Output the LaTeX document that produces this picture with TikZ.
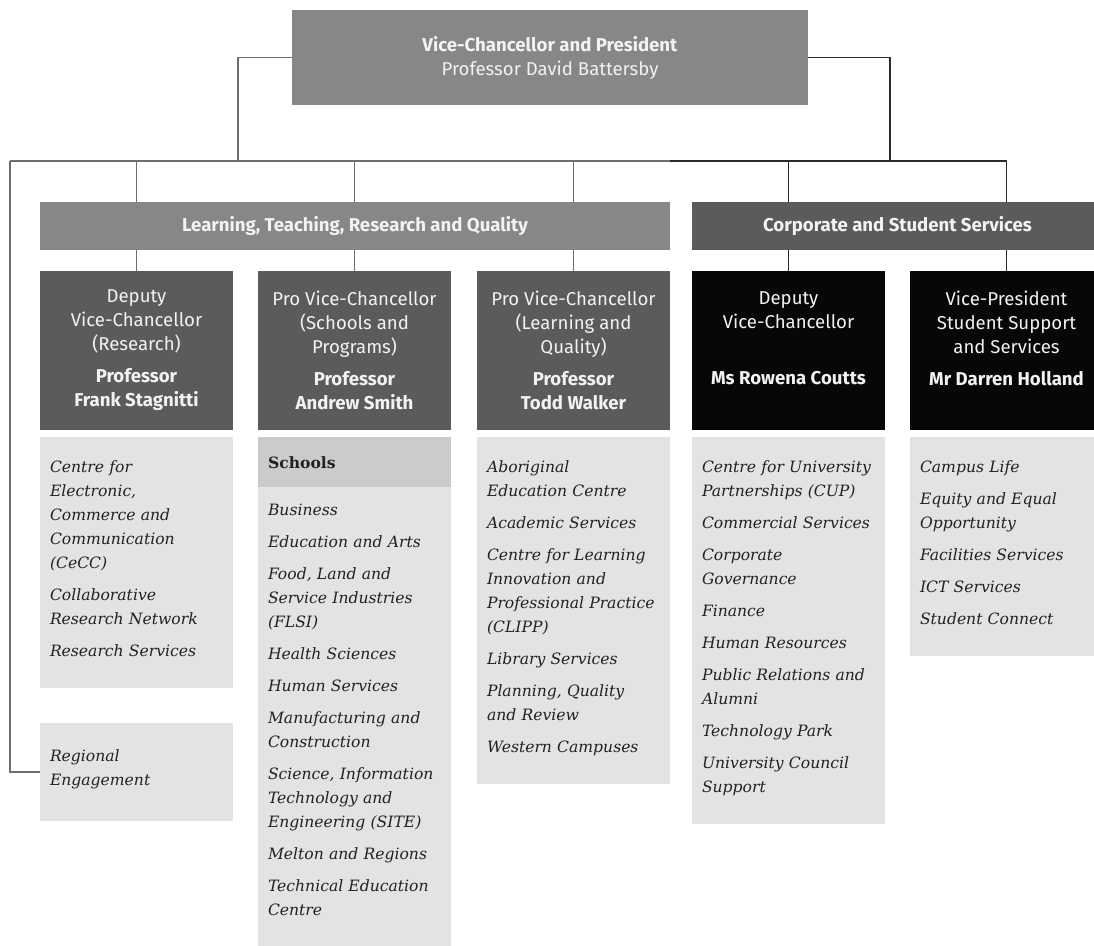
\documentclass[tikz,border=0pt]{standalone}
\usepackage{fontspec}
\setmainfont{DejaVu Serif}
\newfontfamily\headfont{Fira Sans}
\definecolor{topgray}{HTML}{878787}
\definecolor{midgray}{HTML}{5A5B5A}
\definecolor{headblack}{HTML}{070707}
\definecolor{unitgray}{HTML}{E3E3E3}
\definecolor{schgray}{HTML}{CBCBCB}
\definecolor{linegray}{HTML}{6E6E6E}
\definecolor{linedark}{HTML}{2B2B2B}
\newcommand{\unitgap}{\\[8pt]}
\begin{document}
\begin{tikzpicture}[x=1pt, y=-1pt,
    box/.style={inner sep=0pt, text=white!95!black, align=center, font=\headfont\fontsize{18.6}{24}\selectfont},
    topbox/.style={box, fill=topgray, minimum width=516pt, minimum height=95pt},
    bar/.style={box, minimum height=48pt, font=\headfont\bfseries\fontsize{18.6}{24}\selectfont},
    ltbar/.style={bar, fill=topgray, minimum width=630pt},
    csbar/.style={bar, fill=midgray, minimum width=411pt},
    head/.style={box, minimum width=193pt, minimum height=159pt},
    lthead/.style={head, fill=midgray},
    cshead/.style={head, fill=headblack},
    unit/.style={anchor=north, fill=unitgray, text width=173pt, inner xsep=10pt, inner ysep=0pt, align=left, text=black!87,
      font=\fontsize{15.6}{24}\selectfont\itshape,
      execute at begin node={\noindent\rule{0pt}{#1}}, execute at end node={\rule[-32pt]{0pt}{1pt}}},
    unit/.default=35pt,
    schhead/.style={anchor=north, fill=schgray, text width=173pt, inner xsep=10pt, inner ysep=0pt, minimum height=50pt,
      align=left, text=black!87, font=\fontsize{15.6}{24}\selectfont\bfseries},
    lnl/.style={draw=linegray, line width=1.2pt},
    lnr/.style={draw=linedark, line width=1.2pt}]
  \useasboundingbox (0,0) rectangle (1094,945);

  % top and the two groups
  \node[topbox] (vc) at (550,57.5) {\textbf{Vice-Chancellor and President}\\Professor David Battersby};
  \node[ltbar] (ltrq) at (355,226) {Learning, Teaching, Research and Quality};
  \node[csbar] (css) at (897.5,226) {Corporate and Student Services};

  % heads
  \node[lthead] (dvcr) at (136.5,350.5) {Deputy\\Vice-Chancellor\\(Research)\\[8pt]\textbf{Professor}\\\textbf{Frank Stagnitti}};
  \node[lthead] (pvcs) at (354.5,350.5) {Pro Vice-Chancellor\\(Schools and\\Programs)\\[8pt]\textbf{Professor}\\\textbf{Andrew Smith}};
  \node[lthead] (pvcl) at (573.5,350.5) {Pro Vice-Chancellor\\(Learning and\\Quality)\\[8pt]\textbf{Professor}\\\textbf{Todd Walker}};
  \node[cshead] (dvcc) at (788.5,350.5) {Deputy\\Vice-Chancellor\\\mbox{}\\[8pt]\textbf{Ms Rowena Coutts}\\\mbox{}};
  \node[cshead] (vpss) at (1006.5,350.5) {Vice-President\\Student Support\\and Services\\[8pt]\textbf{Mr Darren Holland}\\\mbox{}};

  % units
  \node[unit] (rsch) at (136.5,437) {Centre for\\Electronic,\\Commerce and\\Communication\\(CeCC)\unitgap
    Collaborative\\Research Network\unitgap Research Services};
  \node[unit, anchor=center, minimum height=98pt] (regl) at (136.5,772) {Regional\\Engagement};
  \node[schhead] (schh) at (354.5,437) {Schools};
  \node[unit=28pt] (schl) at ([yshift=0.6pt]schh.south) {Business\unitgap Education and Arts\unitgap
    Food, Land and\\Service Industries\\(FLSI)\unitgap Health Sciences\unitgap Human Services\unitgap
    Manufacturing and\\Construction\unitgap Science, Information\\Technology and\\Engineering (SITE)\unitgap
    Melton and Regions\unitgap Technical Education\\Centre};
  \node[unit] (lq) at (573.5,437) {Aboriginal\\Education Centre\unitgap Academic Services\unitgap
    Centre for Learning\\Innovation and\\Professional Practice\\(CLIPP)\unitgap Library Services\unitgap
    Planning, Quality\\and Review\unitgap Western Campuses};
  \node[unit] (corp) at (788.5,437) {Centre for University\\Partnerships (CUP)\unitgap Commercial Services\unitgap
    Corporate\\Governance\unitgap Finance\unitgap Human Resources\unitgap Public Relations and\\Alumni\unitgap
    Technology Park\unitgap University Council\\Support};
  \node[unit] (stud) at (1006.5,437) {Campus Life\unitgap Equity and Equal\\Opportunity\unitgap
    Facilities Services\unitgap ICT Services\unitgap Student Connect};

  % connectors
  \coordinate (busL) at (10,161);
  \draw[lnl] (vc.west) -| (238,161);
  \draw[lnr] (vc.east) -| (890,161);
  \draw[lnl] (busL) -- (ltrq.east |- busL);
  \draw[lnr] (ltrq.east |- busL) -- (vpss.north |- busL);
  \draw[lnl] (dvcr.north |- busL) -- (dvcr.north |- ltrq.north);
  \draw[lnl] (pvcs.north |- busL) -- (pvcs.north |- ltrq.north);
  \draw[lnl] (pvcl.north |- busL) -- (pvcl.north |- ltrq.north);
  \draw[lnr] (dvcc.north |- busL) -- (dvcc.north |- css.north);
  \draw[lnr] (vpss.north |- busL) -- (vpss.north |- css.north);
  \draw[lnl] (dvcr.north |- ltrq.south) -- (dvcr.north);
  \draw[lnl] (pvcs.north |- ltrq.south) -- (pvcs.north);
  \draw[lnl] (pvcl.north |- ltrq.south) -- (pvcl.north);
  \draw[lnr] (dvcc.north |- css.south) -- (dvcc.north);
  \draw[lnr] (vpss.north |- css.south) -- (vpss.north);
  \draw[lnl] (busL) |- (regl.west);
\end{tikzpicture}
\end{document}
